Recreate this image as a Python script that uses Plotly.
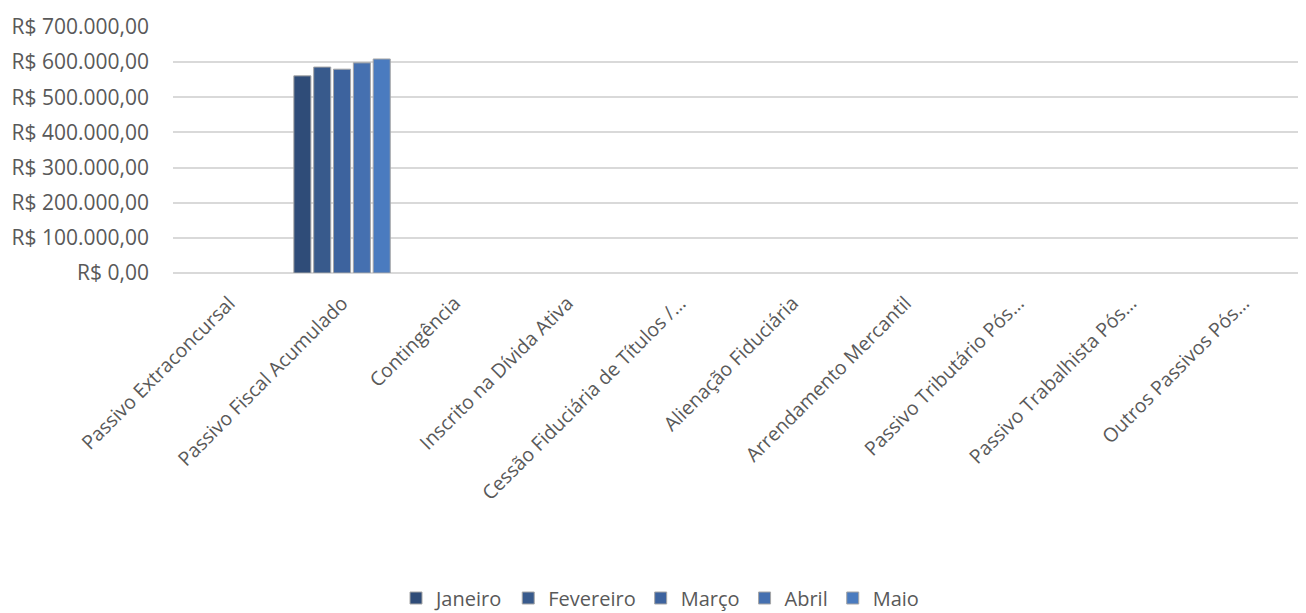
import plotly.graph_objects as go

categories = [
    "Passivo Extraconcursal",
    "Passivo Fiscal Acumulado",
    "Contingência",
    "Inscrito na Dívida Ativa",
    "Cessão Fiduciária de Títulos /…",
    "Alienação Fiduciária",
    "Arrendamento Mercantil",
    "Passivo Tributário Pós…",
    "Passivo Trabalhista Pós…",
    "Outros Passivos Pós…",
]
months = ["Janeiro", "Fevereiro", "Março", "Abril", "Maio"]
janeiro = [None, 561000, None, None, None, None, None, None, None, None]
fevereiro = [None, 586000, None, None, None, None, None, None, None, None]
marco = [None, 580000, None, None, None, None, None, None, None, None]
abril = [None, 598000, None, None, None, None, None, None, None, None]
maio = [None, 609000, None, None, None, None, None, None, None, None]
series = [janeiro, fevereiro, marco, abril, maio]
colors = ["#2f4c78", "#385a8c", "#3d639e", "#4570b0", "#4a7bbf"]

tickvals = [0, 100000, 200000, 300000, 400000, 500000, 600000, 700000]
ticktext = ["R$ 0,00", "R$ 100.000,00", "R$ 200.000,00", "R$ 300.000,00",
            "R$ 400.000,00", "R$ 500.000,00", "R$ 600.000,00", "R$ 700.000,00"]

# page has an 8px body margin; the figure is sized/offset to compensate
OFF = 8
W, H = 1306 - OFF, 613 - OFF


def px_x(x):
    return (x - OFF) / W


def px_y(y):
    return (H - (y - OFF)) / H


fig = go.Figure()
for name, vals, c in zip(months, series, colors):
    fig.add_trace(go.Bar(
        x=categories, y=vals, name=name,
        marker=dict(color=c, line=dict(color="#a6a6a6", width=1)),
    ))

fig.update_layout(
    width=W, height=H,
    margin=dict(l=0, r=0, t=0, b=0, autoexpand=False),
    paper_bgcolor="white", plot_bgcolor="white",
    barmode="group", bargap=0.12, bargroupgap=0.14,
    font=dict(family="Open Sans", size=20, color="#595959"),
    showlegend=True,
    legend=dict(orientation="h", x=px_x(660), xanchor="center",
                y=px_y(598), yanchor="middle",
                font=dict(size=20, color="#595959"),
                itemwidth=30, traceorder="normal"),
    xaxis=dict(domain=[px_x(173), px_x(1300)], tickangle=-45, showgrid=False,
               showline=False, ticks="", automargin=False,
               ticklabelstandoff=14,
               tickfont=dict(size=19.5, color="#595959")),
    yaxis=dict(domain=[px_y(273), px_y(27)],
               range=[0, 700000], tickvals=tickvals, ticktext=ticktext,
               showgrid=True, gridcolor="#d9d9d9", gridwidth=1.5,
               zeroline=True, zerolinecolor="#d9d9d9", zerolinewidth=1.5,
               ticks="", ticklabelstandoff=23, automargin=False,
               tickfont=dict(size=21, color="#595959")),
)

fig.write_html("out.html")
